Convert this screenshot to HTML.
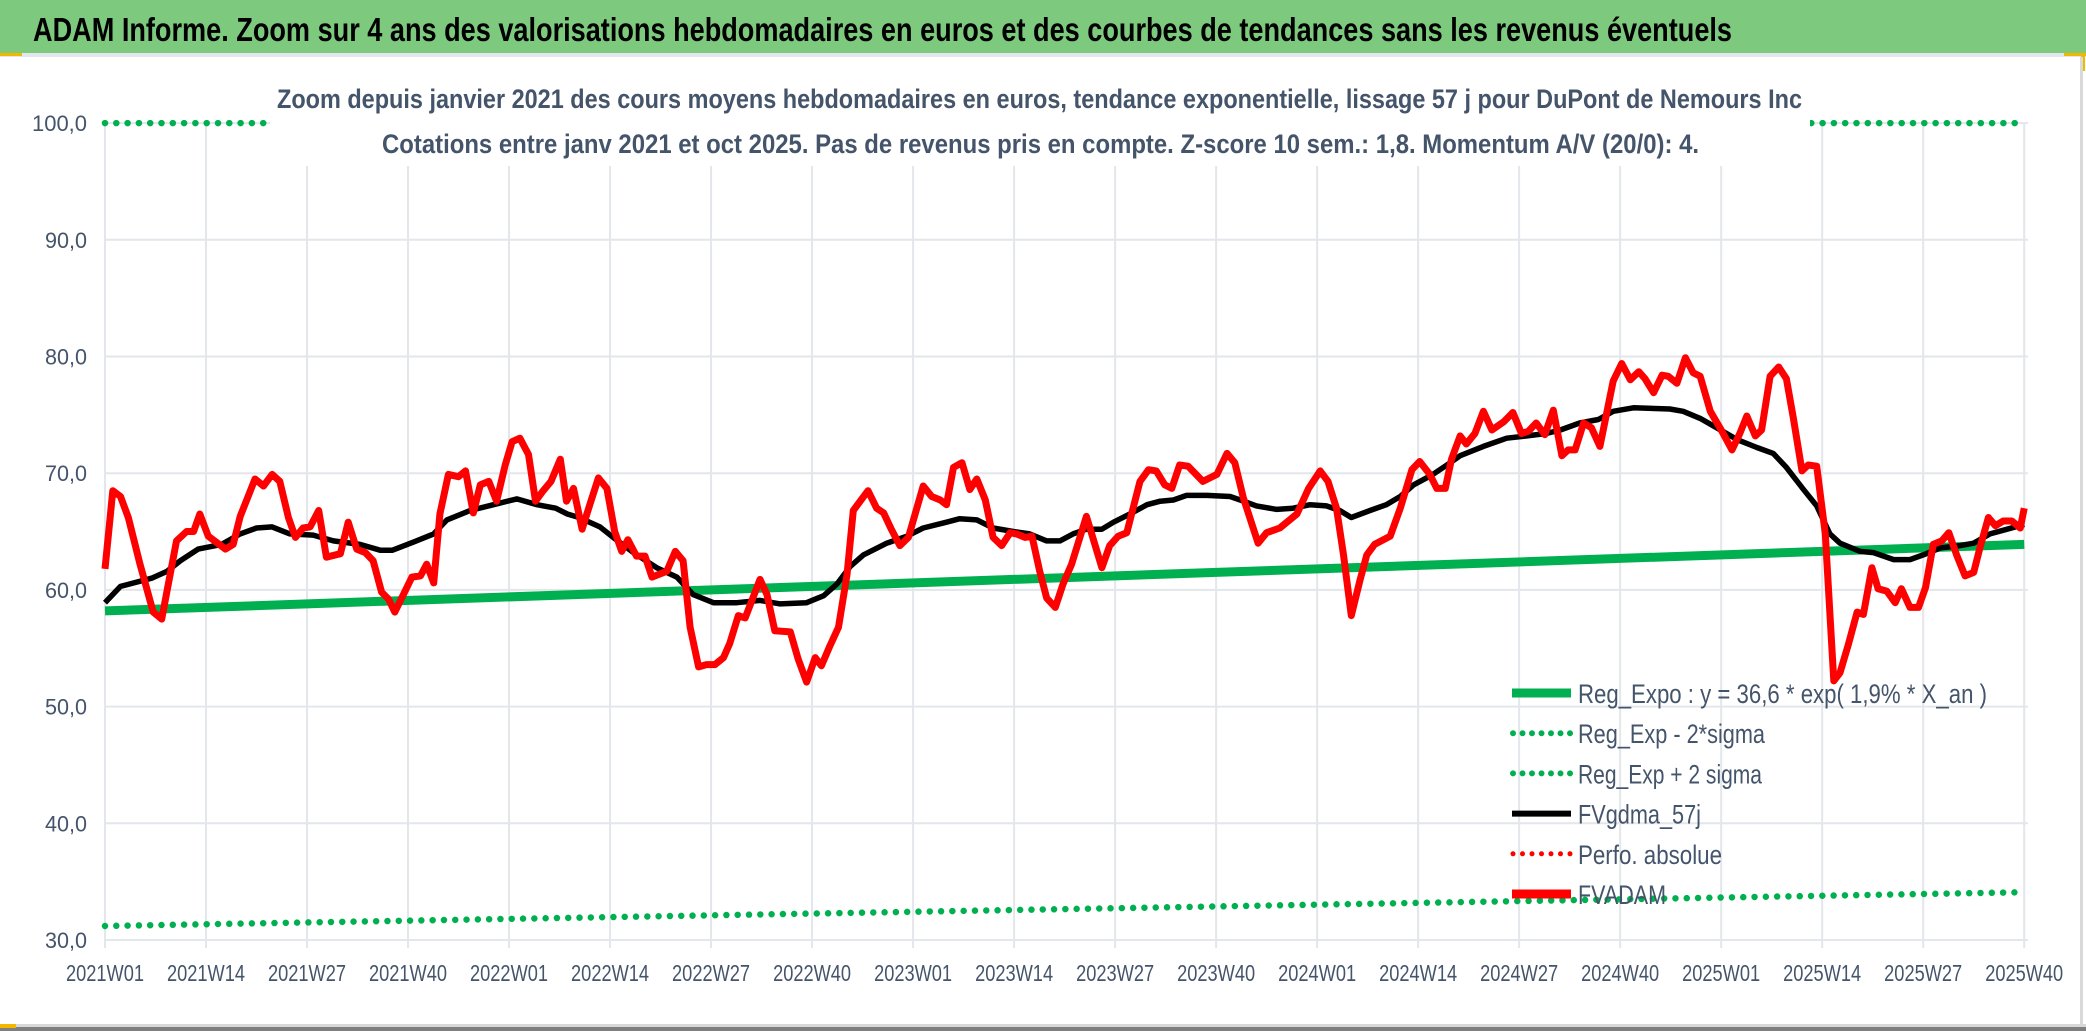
<!DOCTYPE html>
<html><head><meta charset="utf-8"><style>
html,body{margin:0;padding:0;background:#fff;width:2086px;height:1031px;overflow:hidden}
svg{display:block;font-family:"Liberation Sans",sans-serif}
</style></head><body>
<svg id="chart" width="2086" height="1031" viewBox="0 0 2086 1031" xmlns="http://www.w3.org/2000/svg">
<rect x="0" y="0" width="2086" height="1031" fill="#fff"/>
<rect x="0" y="0" width="2086" height="53" fill="#7dc97e"/>
<rect x="0" y="53" width="2086" height="4" fill="#e3e6ea"/>
<rect x="0" y="53" width="22" height="3" fill="#f2b800"/>
<rect x="2064" y="53" width="22" height="3" fill="#f2b800"/>
<rect x="2081" y="53" width="4" height="18" fill="#f2b800"/>
<rect x="2080" y="57" width="3" height="970" fill="#d9d9d9"/>
<rect x="0" y="1024" width="2086" height="3" fill="#d9d9d9"/>
<rect x="0" y="1027" width="2086" height="4" fill="#7f7f7f"/>
<rect x="0" y="1024" width="16" height="4" fill="#f2b800"/>
<text x="33" y="41" font-size="33" font-weight="bold" fill="#000" textLength="1699" lengthAdjust="spacingAndGlyphs">ADAM Informe. Zoom sur 4 ans des valorisations hebdomadaires en euros et des courbes de tendances sans les revenus éventuels</text>
<g id="grid"></g>
<g id="yaxis"></g>
<g id="xaxis"></g>
<g id="series"></g>
<rect x="270" y="60" width="1540" height="106" fill="#fff"/>
<text x="277" y="108" font-size="27" font-weight="bold" fill="#44546a" textLength="1525" lengthAdjust="spacingAndGlyphs">Zoom depuis janvier 2021 des cours moyens hebdomadaires en euros, tendance exponentielle, lissage 57 j pour DuPont de Nemours Inc</text>
<text x="382" y="153" font-size="27" font-weight="bold" fill="#44546a" textLength="1317" lengthAdjust="spacingAndGlyphs">Cotations entre janv 2021 et oct 2025. Pas de revenus pris en compte. Z-score 10 sem.: 1,8. Momentum A/V (20/0): 4.</text>
<g id="legend"></g>
</svg>
<script>
const yTicks=[30,40,50,60,70,80,90,100];
const yTickLabels=["30,0","40,0","50,0","60,0","70,0","80,0","90,0","100,0"];
const xTickWeeks=[0,13,26,39,52,65,78,91,104,117,130,143,156,169,182,195,208,221,234,247];
const xTickLabels=["2021W01","2021W14","2021W27","2021W40","2022W01","2022W14","2022W27","2022W40","2023W01","2023W14","2023W27","2023W40","2024W01","2024W14","2024W27","2024W40","2025W01","2025W14","2025W27","2025W40"];
const regWeeks=[0,247];
const regVals=[58.2,63.9];
const lowWeeks=[0,247];
const lowVals=[31.2,34.1];
const highWeeks=[0,247];
const highVals=[100,100];
const redWeeks=[0,1,2,3,4.5,6.2,7.3,9.2,10.5,11.4,12.2,13.3,15.5,16.5,17.4,19.3,20.4,21.5,22.5,23.6,24.5,25.5,26.4,27.5,28.5,30.3,31.3,32.4,33.5,34.5,35.6,36.5,37.3,39.5,40.6,41.4,42.3,43.1,44.2,45.5,46.4,47.4,48.3,49.4,50.4,51.5,52.4,53.4,54.5,55.4,56.4,57.4,58.6,59.4,60.3,61.4,62.4,63.5,64.6,65.6,66.5,67.3,68.4,69.5,70.4,72.3,73.4,74.4,75.3,76.4,77.4,78.5,79.6,80.4,81.5,82.4,84.3,85.2,86.2,88.2,89.2,90.3,91.4,92.2,93.3,94.4,95.5,96.3,98.2,99.3,100.2,101.2,102.3,103.4,105.3,106.4,107.5,108.3,109.2,110.3,111.3,112.2,113.3,114.3,115.4,116.5,117.3,118.4,119.3,120.3,121.2,122.3,123.3,124.4,126.3,128.3,129.3,130.4,131.5,133.2,134.3,135.3,136.4,137.3,138.3,139.4,141.3,143.1,144.4,145.4,146.5,148.4,149.5,151.2,153.4,154.9,156.4,157.4,158.5,159.4,160.4,161.5,162.4,163.4,165.4,166.7,168.2,169.2,170.5,171.4,172.5,173.3,174.4,175.2,176.3,177.4,178.5,180.0,181.2,182.3,183.2,184.2,185.3,186.4,187.5,188.3,189.2,190.3,191.3,192.4,194.1,195.2,196.3,197.4,198.2,199.3,200.4,201.2,202.3,203.4,204.4,205.3,206.6,208.1,209.4,210.4,211.3,212.4,213.2,214.3,215.4,216.4,217.3,218.4,219.2,220.3,221.4,222.5,223.3,224.4,225.5,226.3,227.4,228.2,229.3,230.4,231.2,232.3,233.4,234.3,235.3,236.4,237.3,238.3,239.4,240.5,241.3,242.4,243.3,244.3,245.4,246.5,247];
const redVals=[61.8,68.5,68.0,66.2,62.2,58.1,57.5,64.2,65.0,65.0,66.5,64.6,63.5,63.9,66.3,69.5,68.9,69.9,69.3,66.2,64.5,65.3,65.4,66.8,62.8,63.1,65.8,63.5,63.2,62.5,59.8,59.2,58.1,61.1,61.2,62.2,60.6,66.5,69.9,69.7,70.2,66.6,69.0,69.3,67.6,70.7,72.7,73.0,71.6,67.6,68.5,69.3,71.2,67.6,68.7,65.2,67.3,69.6,68.7,65.0,63.3,64.3,62.9,62.9,61.1,61.6,63.3,62.5,56.8,53.4,53.6,53.6,54.2,55.4,57.8,57.6,60.9,59.6,56.5,56.4,54.1,52.1,54.2,53.5,55.2,56.8,61.3,66.8,68.5,67.0,66.6,65.2,63.8,64.5,68.9,68.0,67.7,67.3,70.5,70.9,68.6,69.5,67.7,64.5,63.8,64.9,64.8,64.5,64.6,61.6,59.3,58.5,60.5,62.2,66.3,61.9,63.8,64.6,64.9,69.3,70.3,70.2,69.0,68.7,70.7,70.6,69.3,69.9,71.7,70.9,67.9,64.0,64.9,65.3,66.5,68.7,70.2,69.3,67.0,63.0,57.8,60.8,63.0,63.9,64.6,67.0,70.3,71.0,69.9,68.7,68.7,71.2,73.2,72.5,73.4,75.3,73.7,74.4,75.2,73.4,73.6,74.3,73.3,75.4,71.5,72.0,72.0,74.3,73.9,72.3,77.9,79.4,78.0,78.7,78.1,76.9,78.4,78.3,77.7,79.9,78.6,78.3,75.3,73.6,72.0,73.4,74.9,73.2,73.7,78.3,79.1,78.1,74.7,70.2,70.7,70.6,64.8,52.2,52.9,55.4,58.1,57.9,61.9,60.1,59.9,58.9,60.1,58.5,58.5,60.2,63.9,64.2,64.9,63.0,61.2,61.5,63.6,66.2,65.5,65.9,65.9,65.3,67.0];
const blackWeeks=[0,2,6,8,9.7,12,15,17.4,19.5,21.5,23.8,26.8,29.4,32.8,35.4,37,39.7,42.3,44,47,50,53,55.6,58,59.5,61,63.7,65.4,68,71,73.6,75.7,78.3,81.3,84.3,86.9,90.3,92.5,94.2,95.9,97.6,100.6,103.2,105.3,108.3,110,112.2,114.3,116.9,119,121.2,122.9,124.6,126.3,128.3,129.8,131.9,134.1,135.8,137.5,139.2,141.8,144.8,146.1,148.2,150.8,152.9,155.1,157.2,158.9,160.4,162.8,164.9,166.7,168.4,170.9,172.7,174.4,177.4,180.4,183,185.5,187.3,189.8,192.2,194.1,196.7,201.4,203.1,205.3,207.4,210,212.6,214.7,216.4,218.6,220.3,222,223.3,225.9,227.6,230.2,232.3,234,236.2,238.8,240.5,242.6,244.8,247];
const blackVals=[58.9,60.3,61.0,61.6,62.5,63.5,63.9,64.8,65.3,65.4,64.8,64.7,64.2,63.9,63.4,63.4,64.1,64.8,66.0,66.8,67.3,67.8,67.3,67.0,66.5,66.2,65.4,64.5,63.2,61.9,61.1,59.6,58.9,58.9,59.1,58.8,58.9,59.5,60.5,62.0,63.0,64.0,64.6,65.3,65.8,66.1,66.0,65.3,65.0,64.8,64.2,64.2,64.8,65.2,65.2,65.8,66.5,67.3,67.6,67.7,68.1,68.1,68.0,67.7,67.2,66.9,67.0,67.3,67.2,66.8,66.2,66.8,67.3,68.0,69.0,69.9,70.7,71.5,72.3,73.0,73.2,73.4,73.7,74.3,74.6,75.3,75.6,75.5,75.3,74.7,73.9,72.9,72.2,71.7,70.5,68.6,67.2,64.8,64.0,63.3,63.2,62.6,62.6,63.0,63.6,63.8,64.0,64.8,65.2,65.6];

const NS="http://www.w3.org/2000/svg";
const X0=105,WK=7.77,Y30=940,PX10=116.7,XR=2024;
function xs(w){return X0+w*WK;}
function ys(v){return Y30-(v-30)*PX10/10;}
function mk(tag,attrs,parent){const e=document.createElementNS(NS,tag);for(const k in attrs)e.setAttribute(k,attrs[k]);parent.appendChild(e);return e;}
const grid=document.getElementById('grid'),yax=document.getElementById('yaxis'),xax=document.getElementById('xaxis'),ser=document.getElementById('series'),leg=document.getElementById('legend');
yTicks.forEach((t,i)=>{
  const l=mk('line',{x1:X0,x2:XR+4,y1:ys(t),y2:ys(t),stroke:'#e3e6ea','stroke-width':2},grid);
  
  
  const tx=mk('text',{x:87,y:ys(t)+8,'font-size':22,fill:'#44546a','text-anchor':'end',textLength:i==7?55:42,lengthAdjust:'spacingAndGlyphs'},yax);
  tx.textContent=yTickLabels[i];
  
  
});
xTickWeeks.forEach((w,i)=>{
  const l=mk('line',{x1:xs(w),x2:xs(w),y1:ys(100),y2:ys(30)+8,stroke:'#e3e6ea','stroke-width':2},grid);
  
  
  const tx=mk('text',{x:xs(w),y:981,'font-size':23,fill:'#44546a','text-anchor':'middle',textLength:78,lengthAdjust:'spacingAndGlyphs'},xax);
  tx.textContent=xTickLabels[i];
  
  
});
function pts(ws,vs){return ws.map((w,i)=>xs(w).toFixed(1)+','+ys(vs[i]).toFixed(1)).join(' ');}
const dot={'stroke-dasharray':'0 11.3','stroke-linecap':'round'};
let p;
p=mk('polyline',Object.assign({points:pts(highWeeks,highVals),fill:'none',stroke:'#00b050','stroke-width':6.5},dot),ser);


p=mk('polyline',Object.assign({points:pts(lowWeeks,lowVals),fill:'none',stroke:'#00b050','stroke-width':6.5},dot),ser);


p=mk('polyline',{points:pts(regWeeks,regVals),fill:'none',stroke:'#00b050','stroke-width':9},ser);


p=mk('polyline',{points:pts(blackWeeks,blackVals),fill:'none',stroke:'#000','stroke-width':5.5,'stroke-linejoin':'round'},ser);


p=mk('polyline',{points:pts(redWeeks,redVals),fill:'none',stroke:'#ff0000','stroke-width':7,'stroke-linejoin':'round'},ser);



const legNames=["Reg_Expo : y = 36,6 * exp( 1,9% *  X_an )","Reg_Exp - 2*sigma","Reg_Exp + 2 sigma","FVgdma_57j","Perfo. absolue","FVADAM"];
const legLens=[409,187,184,123,144,88];
const legStyles=[['#00b050',9,false],['#00b050',6,true],['#00b050',6,true],['#000',6,false],['#ff0000',5,true],['#ff0000',9,false]];
const legKeys=['legend-entry-reg-expo','legend-entry-minus-2-sigma','legend-entry-plus-2-sigma','legend-entry-fvgdma','legend-entry-perfo-absolue','legend-entry-fvadam'];
legNames.forEach((n,i)=>{
  const y=693+i*40.2;
  const g=mk('g',{},leg);
  
  
  const s=legStyles[i];
  const a={x1:1512,x2:1571,y1:y,y2:y,stroke:s[0],'stroke-width':s[1]};
  if(s[2]){a['stroke-dasharray']='0 9.5';a['stroke-linecap']='round';a.x1=1513;}
  mk('line',a,g);
  const t=mk('text',{x:1578,y:y+10,'font-size':27,fill:'#44546a',textLength:legLens[i],lengthAdjust:'spacingAndGlyphs'},g);
  t.textContent=n;
});
</script>
</body></html>
